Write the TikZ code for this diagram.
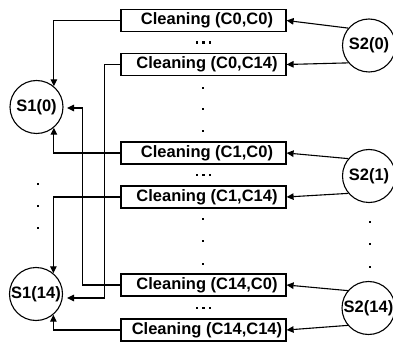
\documentclass[tikz,border=0pt]{standalone}
\usepackage{fontspec}
\setmainfont{Liberation Sans}
\usetikzlibrary{arrows.meta}
\begin{document}
\begin{tikzpicture}[x=1pt,y=-1pt,
  box/.style={draw,line width=1.2pt,minimum width=165pt,minimum height=22pt,inner sep=0pt,font=\fontsize{16.5}{18}\selectfont\bfseries},
  state/.style={draw,circle,line width=1.1pt,minimum size=53pt,inner sep=0pt,font=\fontsize{16.5}{18}\selectfont\bfseries},
  arr/.style={line width=1.1pt,-{Triangle[length=7pt,width=6.5pt]}},
  dot/.style={rectangle,fill,inner sep=0pt,minimum size=2.8pt}]
\useasboundingbox (0,0) rectangle (393,347);
% boxes
\node[box] (b1) at (203.5,20.5) {\hspace*{7pt}Cleaning (C0,C0)};
\node[box] (b2) at (203.5,64.5) {\hspace*{7pt}Cleaning (C0,C14)};
\node[box] (b3) at (203.5,153) {\hspace*{7pt}Cleaning (C1,C0)};
\node[box] (b4) at (203.5,197) {\hspace*{7pt}Cleaning (C1,C14)};
\node[box] (b5) at (203.5,285) {\hspace*{7pt}Cleaning (C14,C0)};
\node[box] (b6) at (203.5,330) {\hspace*{7pt}Cleaning (C14,C14)};
% states
\node[state] (s10) at (36.5,107) {S1(0)};
\node[state] (s114) at (36,294) {S1(14)};
\node[state] (s20) at (369,45.5) {S2(0)};
\node[state] (s21) at (369,176) {S2(1)};
\node[state] (s214) at (368.5,308) {S2(14)};
% arrows from S2
\draw[arr] (s20.140) -- (b1.east);
\draw[arr] (s20.220) -- (b2.east);
\draw[arr] (s21.140) -- (b3.east);
\draw[arr] (s21.220) -- (b4.east);
\draw[arr] (s214.140) -- (b5.east);
\draw[arr] (s214.220) -- (b6.east);
% arrows to S1
\coordinate (t1) at (67,108);
\coordinate (t2) at (67,298);
\draw[arr] (b1.west) -| (s10.50);
\draw[arr] (b3.west) -| (s10.-50);
\draw[arr] (b4.west) -| (s114.50);
\draw[arr] (b6.west) -| (s114.-50);
\draw[arr] (b5.west) -- ++(-37.5,0) |- (t1);
\draw[arr] (b2.west) -- ++(-16,0) |- (t2);
% ellipses
\foreach \y/\n in {42.5/a,175/b,308/c}{
  \foreach \x [count=\i] in {197,203.5,210}{
    \node[dot] (e\n\i) at (\x,\y) {};
  }
}
% vertical dots
\foreach \y [count=\i] in {88,109,131}{\node[dot] (va\i) at (203,\y) {};}
\foreach \y [count=\i] in {219,241,264}{\node[dot] (vb\i) at (203,\y) {};}
\foreach \y [count=\i] in {184,206,228}{\node[dot] (vl\i) at (38,\y) {};}
\foreach \y [count=\i] in {222,244,267}{\node[dot] (vr\i) at (370,\y) {};}
\end{tikzpicture}
\end{document}
